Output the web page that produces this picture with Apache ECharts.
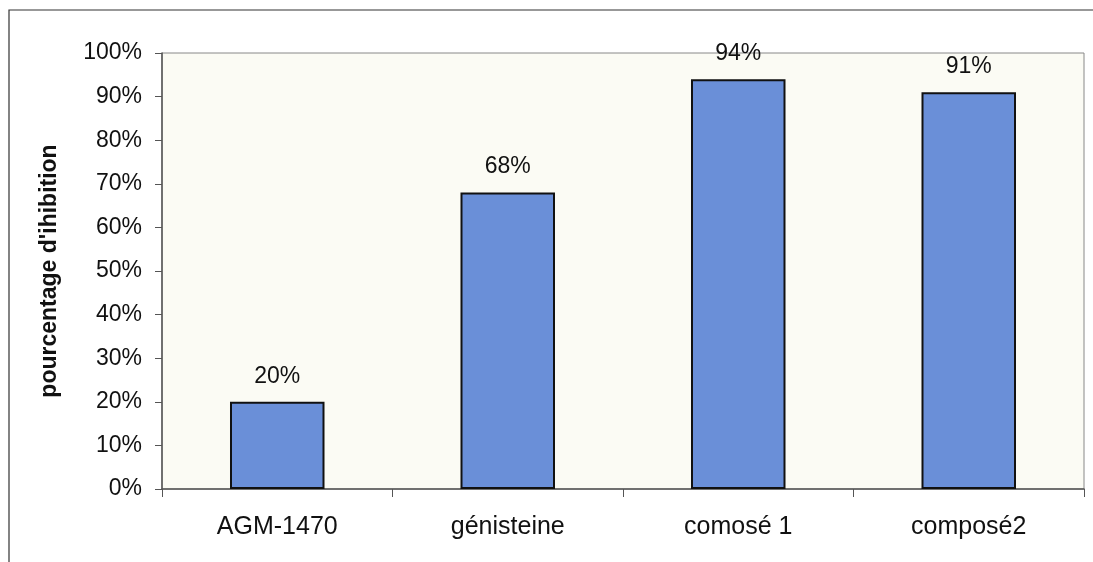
<!DOCTYPE html>
<html>
<head>
<meta charset="utf-8">
<script src="https://cdn.jsdelivr.net/npm/echarts@6/dist/echarts.min.js"></script>
<style>
html,body{margin:0;padding:0;background:#fff;}
#c{width:1093px;height:562px;}
</style>
</head>
<body>
<div id="c"></div>
<script>
const categories = ['AGM-1470', 'génisteine', 'comosé 1', 'composé2'];
const values = [20, 68, 94, 91];
const yTicks = [0, 10, 20, 30, 40, 50, 60, 70, 80, 90, 100];
const yAxisTitle = "pourcentage d'ihibition";

const chart = echarts.init(document.getElementById('c'), null, {renderer: 'canvas'});
chart.setOption({
  backgroundColor: '#ffffff',
  animation: false,
  graphic: [{
    type: 'polyline',
    shape: {points: [[9, 562], [9, 10], [1093, 10]]},
    style: {stroke: '#333', lineWidth: 1.2, fill: null},
    silent: true
  }],
  grid: {
    left: 162, right: 9, top: 53, bottom: 73,
    show: true, backgroundColor: '#fbfbf4', borderColor: '#888', borderWidth: 1
  },
  xAxis: {
    type: 'category',
    data: categories,
    axisLine: {lineStyle: {color: '#555', width: 1.5}},
    axisTick: {show: true, length: 8, lineStyle: {color: '#555'}},
    axisLabel: {color: '#111', fontFamily: 'Liberation Sans, Arial', fontSize: 25, margin: 26}
  },
  yAxis: {
    type: 'value',
    min: yTicks[0], max: yTicks[yTicks.length - 1], interval: 10,
    name: yAxisTitle,
    nameLocation: 'middle',
    nameGap: 101,
    nameTextStyle: {color: '#111', fontFamily: 'Liberation Sans, Arial', fontSize: 23, fontWeight: 'bold'},
    axisLine: {show: true, lineStyle: {color: '#555', width: 1.5}},
    axisTick: {show: true, length: 7, lineStyle: {color: '#555'}},
    splitLine: {show: false},
    axisLabel: {color: '#111', fontFamily: 'Liberation Sans, Arial', fontSize: 23, margin: 20,
      formatter: v => v + '%'}
  },
  series: [{
    type: 'bar',
    data: values,
    barWidth: '41%',
    itemStyle: {color: '#6a8fd8', borderColor: '#111', borderWidth: 2},
    label: {show: true, position: 'top', distance: 14, color: '#111',
      fontFamily: 'Liberation Sans, Arial', fontSize: 23, formatter: p => p.value + '%'}
  }]
});
</script>
</body>
</html>
